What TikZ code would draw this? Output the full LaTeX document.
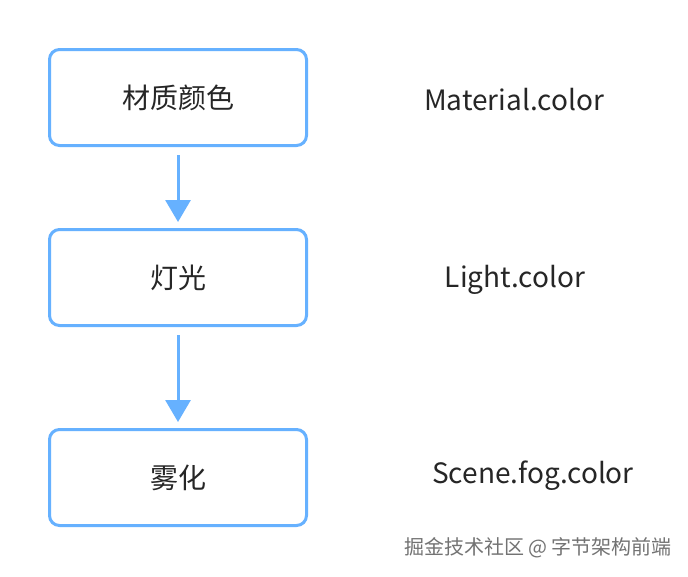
\documentclass[tikz,border=0pt]{standalone}
\usepackage{fontspec}
\setmainfont{Noto Sans CJK SC}
\usetikzlibrary{arrows.meta,positioning}
\definecolor{boxblue}{HTML}{66B1FF}
\definecolor{txtgray}{HTML}{262626}

\begin{document}
\begin{tikzpicture}[x=1pt,y=-1pt,
    every node/.style={font=\fontsize{28}{32}\selectfont, text=txtgray},
    stage/.style={draw=boxblue, line width=3pt, rounded corners=10pt, fill=white,
        minimum width=257pt, minimum height=96pt, inner sep=0pt},
    flow/.style={draw=boxblue, line width=3pt,
        -{Triangle[width=25pt,length=22pt]}, shorten <=8pt, shorten >=6pt}]
    \useasboundingbox[fill=white] (0,0) rectangle (688,576);
    \node[stage] (mat) at (178,97.5) {材质颜色};
    \node[stage] (light) at (178,277.5) {灯光};
    \node[stage] (fog) at (178,477.5) {雾化};
    \draw[flow] (mat) -- (light);
    \draw[flow] (light) -- (fog);
    \node (matcol) at (514,100) {Material.color};
    \node (lightcol) at (515,280) {Light.color};
    \node (fogcol) at (533,476) {Scene.fog.color};
    \node[font=\fontsize{20}{22}\selectfont, text=black!55] (mark) at (538,548) {掘金技术社区 @ 字节架构前端};
\end{tikzpicture}
\end{document}
